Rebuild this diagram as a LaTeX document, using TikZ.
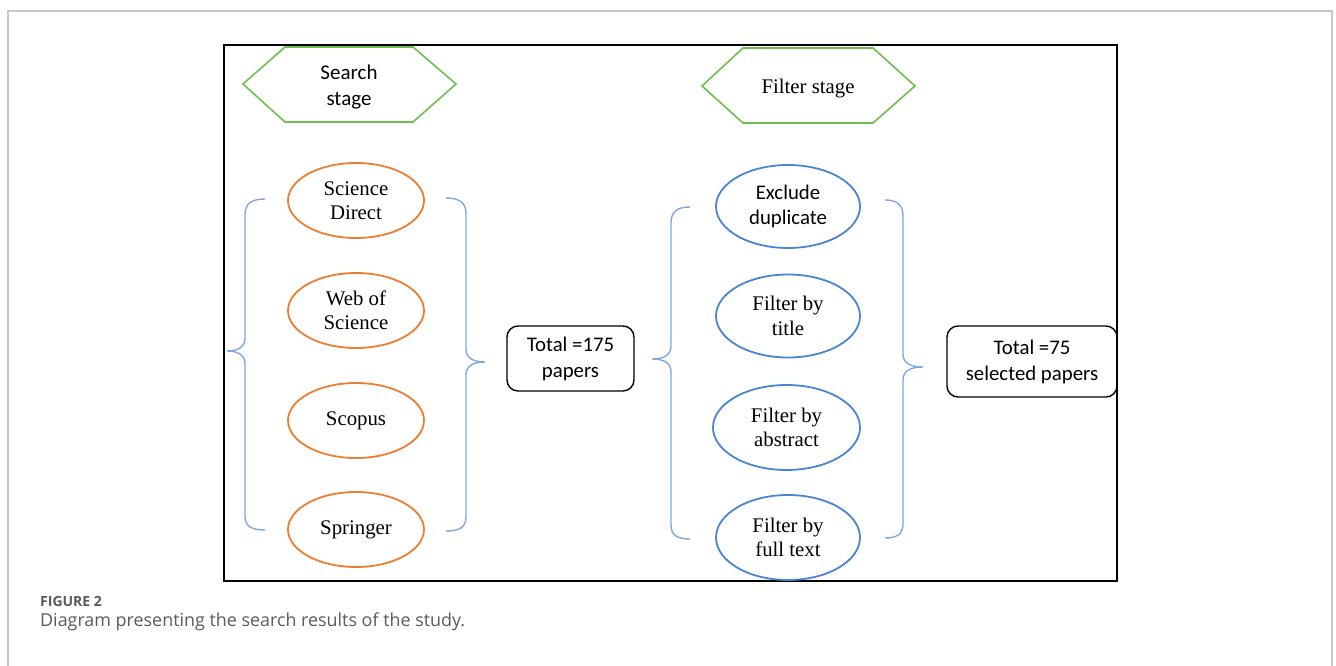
\documentclass[tikz,border=0pt]{standalone}
\usepackage{fontspec}
\setmainfont{Liberation Serif}
\newfontfamily\calib{Carlito}
\newfontfamily\capfont{Open Sans}
\usetikzlibrary{shapes.geometric}
\definecolor{hexgreen}{HTML}{6DBE4E}
\definecolor{dborange}{HTML}{ED7D31}
\definecolor{filtblue}{HTML}{4A84D4}
\definecolor{braceblue}{HTML}{7FA8E0}
\definecolor{framegray}{HTML}{C8C8C8}
\definecolor{captgray}{HTML}{5A5A5A}
\tikzset{
  hexa/.style={draw=hexgreen, line width=1.6pt},
  dbell/.style={ellipse, draw=dborange, line width=1.8pt, minimum width=136pt, minimum height=75pt, inner sep=0pt, align=center, font=\fontsize{20.8}{24.5}\selectfont},
  filtell/.style={ellipse, draw=filtblue, line width=1.8pt, minimum width=144pt, minimum height=83pt, inner sep=0pt, align=center, font=\fontsize{20.8}{24.5}\selectfont},
  bracepath/.style={draw=braceblue, line width=1.4pt},
  totbox/.style={rectangle, rounded corners=11pt, draw=black, line width=1.4pt, inner sep=0pt, align=center, font=\calib\fontsize{20.8}{26}\selectfont},
  hextext/.style={align=center, inner sep=0pt}
}
\begin{document}
\begin{tikzpicture}[x=1pt,y=-1pt]
\useasboundingbox (0,0) rectangle (1336,666);
% outer gray frame
\draw[framegray, line width=1.6pt] (8,666) -- (8,11) -- (1332,11) -- (1332,666);
% inner black frame
\draw[black, line width=1.8pt] (224,45) rectangle (1117,581);
% hexagons
\draw[hexa] (243,84) -- (285,47) -- (413,47) -- (456,84) -- (413,122) -- (285,122) -- cycle;
\node[hextext, font=\calib\fontsize{21}{26}\selectfont] (search) at (349,87) {Search\\stage};
\draw[hexa] (702,86) -- (743,48) -- (873,48) -- (915,86) -- (873,123) -- (743,123) -- cycle;
\node[hextext, font=\fontsize{20.8}{24}\selectfont] (filter) at (808,89) {Filter stage};
% databases
\node[dbell] (sd) at (356,200.5) {Science\\Direct};
\node[dbell] (wos) at (356,310.5) {Web of\\Science};
\node[dbell] (scopus) at (356,420.5) {Scopus};
\node[dbell] (springer) at (356,529.5) {Springer};
% filters
\node[filtell] (dup) at (788,206.5) {\calib Exclude\\\calib duplicate};
\node[filtell] (title) at (788,316) {Filter by\\title};
\node[filtell, minimum width=147pt, minimum height=85pt] (abstract) at (786.5,427.5) {Filter by\\abstract};
\node[filtell, minimum height=85pt] (full) at (788,537.5) {Filter by\\full text};
% totals
\node[totbox, minimum width=127pt, minimum height=65pt] (t175) at (570.5,358.5) {Total =175\\papers};
\node[totbox, minimum width=170pt, minimum height=71pt] (t75) at (1032,361.5) {Total =75\\selected papers};
% braces, search column
\draw[bracepath] (265,199) .. controls (251,199) and (245,204) .. (245,215) -- (245,338) .. controls (245,347) and (238,351) .. (227,351) .. controls (238,351) and (245,355) .. (245,364) -- (245,516) .. controls (245,526) and (251,530) .. (265,530);
\draw[bracepath] (446,198) .. controls (460,198) and (466,203) .. (466,214) -- (466,349) .. controls (466,358) and (473,362) .. (485,362) .. controls (473,362) and (466,366) .. (466,375) -- (466,517) .. controls (466,527) and (460,531) .. (446,531);
% braces, filter column
\draw[bracepath] (690,207) .. controls (677,207) and (671,212) .. (671,223) -- (671,346) .. controls (671,355) and (664,359) .. (652,359) .. controls (664,359) and (671,363) .. (671,372) -- (671,525) .. controls (671,535) and (677,539) .. (690,539);
\draw[bracepath] (885,200) .. controls (897,200) and (903,205) .. (903,216) -- (903,354) .. controls (903,363) and (910,367) .. (923,367) .. controls (910,367) and (903,371) .. (903,380) -- (903,524) .. controls (903,534) and (897,538) .. (885,538);
% caption
\node[anchor=west, inner sep=0pt, text=captgray, font=\capfont\bfseries\fontsize{14}{16}\selectfont] (figlabel) at (40,601) {FIGURE 2};
\node[anchor=west, inner sep=0pt, text=captgray, font=\capfont\fontsize{17.9}{20}\selectfont] (caption) at (40,622) {Diagram presenting the search results of the study.};
\end{tikzpicture}
\end{document}
